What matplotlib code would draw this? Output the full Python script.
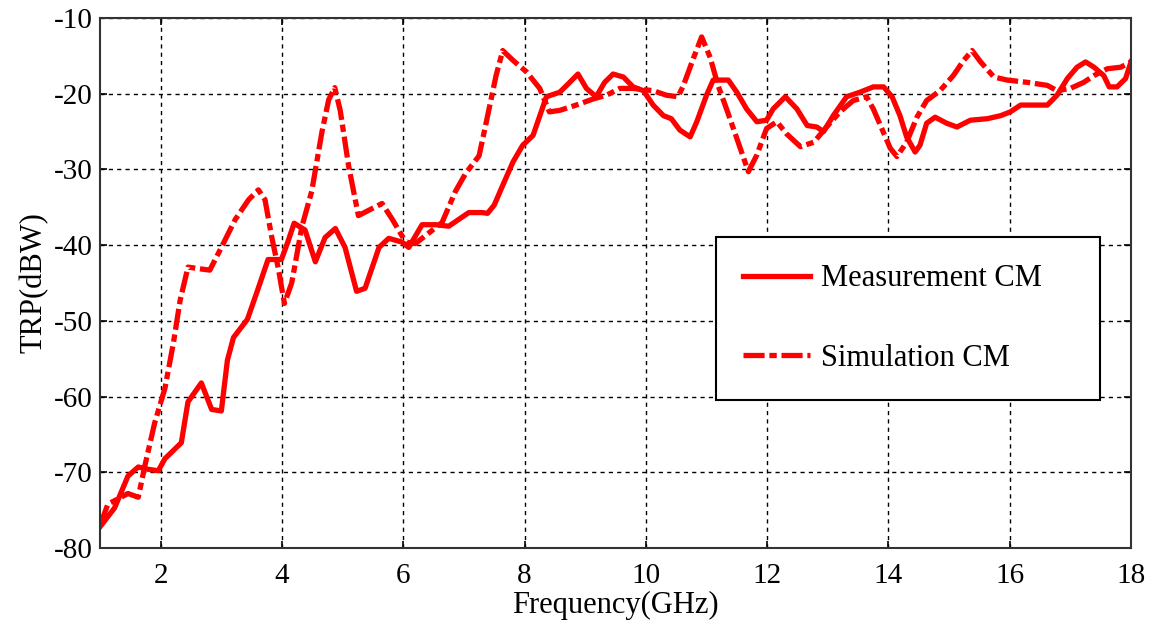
import numpy as np
import matplotlib
matplotlib.use("Agg")
import matplotlib.pyplot as plt

plt.rcParams['font.family'] = ['Liberation Serif', 'DejaVu Serif']
plt.rcParams['axes.unicode_minus'] = False

# Measurement CM (solid)
meas_f = [1.0, 1.24, 1.46, 1.63, 1.79, 1.96, 2.07, 2.34, 2.45, 2.67, 2.84, 3.0, 3.1, 3.2,
          3.43, 3.6, 3.77, 3.99, 4.1, 4.2, 4.38, 4.55, 4.71, 4.88, 5.04, 5.23, 5.37, 5.6,
          5.76, 5.98, 6.09, 6.31, 6.53, 6.75, 7.08, 7.3, 7.39, 7.5, 7.64, 7.81, 7.97, 8.14,
          8.36, 8.58, 8.72, 8.88, 9.02, 9.18, 9.32, 9.46, 9.63, 9.79, 9.96, 10.12, 10.29,
          10.42, 10.56, 10.73, 10.84, 11.0, 11.11, 11.36, 11.5, 11.66, 11.83, 11.99, 12.1,
          12.3, 12.49, 12.66, 12.82, 12.93, 13.09, 13.31, 13.53, 13.75, 13.92, 14.06, 14.19,
          14.3, 14.44, 14.52, 14.63, 14.77, 14.96, 15.13, 15.35, 15.63, 15.85, 16.01, 16.18,
          16.4, 16.62, 16.78, 16.95, 17.11, 17.25, 17.39, 17.55, 17.64, 17.77, 17.91, 18.0]
meas_db = [-77.2, -74.7, -70.5, -69.3, -69.6, -69.8, -68.2, -66.1, -60.7, -58.2, -61.7, -61.9,
           -55.2, -52.2, -49.8, -45.9, -41.9, -41.9, -39.5, -37.1, -38.0, -42.2, -39.0, -37.8,
           -40.3, -46.1, -45.7, -40.3, -39.1, -39.6, -40.3, -37.3, -37.3, -37.5, -35.7, -35.7,
           -35.8, -34.7, -32.1, -29.0, -26.8, -25.5, -20.4, -19.8, -18.7, -17.4, -19.3, -20.4,
           -18.5, -17.4, -17.8, -19.1, -19.6, -21.5, -22.9, -23.3, -24.8, -25.7, -23.7, -20.2,
           -18.2, -18.2, -19.8, -22.0, -23.7, -23.5, -22.0, -20.4, -22.0, -24.2, -24.4, -25.0,
           -22.9, -20.4, -19.8, -19.1, -19.1, -20.4, -22.9, -25.7, -27.7, -26.8, -23.9, -23.1,
           -23.9, -24.4, -23.5, -23.3, -22.9, -22.4, -21.5, -21.5, -21.5, -20.2, -18.0, -16.5,
           -15.8, -16.5, -17.6, -19.1, -19.1, -18.0, -15.8]

# Simulation CM (dash-dot)
sim_f = [1.0, 1.13, 1.3, 1.46, 1.63, 1.74, 1.9, 2.07, 2.21, 2.32, 2.45, 2.62, 2.81, 3.0, 3.23,
         3.45, 3.61, 3.72, 3.83, 3.94, 4.04, 4.16, 4.33, 4.49, 4.66, 4.77, 4.87, 4.96, 5.1,
         5.26, 5.43, 5.65, 5.82, 6.04, 6.2, 6.42, 6.64, 6.86, 7.03, 7.25, 7.37, 7.53, 7.64,
         7.81, 8.03, 8.25, 8.41, 8.58, 8.85, 9.13, 9.35, 9.57, 9.79, 10.12, 10.34, 10.53,
         10.62, 10.78, 10.92, 11.06, 11.19, 11.33, 11.5, 11.69, 11.83, 11.99, 12.16, 12.32,
         12.55, 12.77, 12.98, 13.2, 13.42, 13.64, 13.75, 13.89, 14.03, 14.14, 14.3, 14.47,
         14.63, 14.85, 15.07, 15.24, 15.38, 15.52, 15.74, 15.96, 16.29, 16.62, 16.78, 17.0,
         17.22, 17.39, 17.61, 17.83, 18.0]
sim_db = [-77.0, -74.2, -73.5, -72.8, -73.3, -69.1, -63.5, -58.9, -52.9, -47.3, -42.9, -43.1,
          -43.3, -40.3, -36.6, -34.0, -32.7, -34.0, -38.9, -43.1, -47.7, -45.0, -37.5, -32.9,
          -25.0, -20.8, -19.2, -22.2, -29.6, -36.1, -35.4, -34.5, -36.6, -39.6, -39.8, -38.4,
          -37.0, -32.9, -30.5, -28.2, -23.7, -17.6, -14.3, -15.6, -17.1, -19.3, -22.4, -22.2,
          -21.5, -20.7, -20.2, -19.3, -19.3, -19.6, -20.2, -20.4, -18.9, -15.4, -12.5, -15.2,
          -18.9, -22.0, -25.9, -30.3, -28.1, -24.6, -23.7, -25.3, -27.0, -26.4, -24.4, -22.4,
          -20.9, -20.4, -22.0, -24.6, -27.2, -28.3, -26.4, -23.1, -20.9, -19.6, -17.6, -15.6,
          -14.3, -15.8, -17.8, -18.2, -18.5, -18.9, -19.6, -19.3, -18.5, -17.6, -16.7, -16.5,
          -15.8]

xticks = np.arange(2, 19, 2)
yticks = np.arange(-80, -9, 10)

fig = plt.figure(figsize=(11.58, 6.25), dpi=100)
ax = fig.add_axes([0.0864, 0.1232, 0.8903, 0.848])

ax.plot(meas_f, meas_db, color='red', lw=3.8, label='Measurement CM')
ax.plot(sim_f, sim_db, color='red', lw=3.8, dashes=[4, 0.9, 1.4, 0.9], label='Simulation CM')

ax.set_xlim(1, 18)
ax.set_ylim(-80, -10)
ax.set_xticks(xticks)
ax.set_yticks(yticks)
ax.tick_params(direction='in', top=True, right=True, labelsize=21, length=5, width=1.2)
ax.tick_params(axis='x', pad=11)
ax.tick_params(axis='y', pad=5)
ax.grid(True, color='black', linestyle=(0, (3, 3)), linewidth=1.0)
for s in ax.spines.values():
    s.set_linewidth(1.5)
    s.set_color('#333333')

ax.set_xlabel('Frequency(GHz)', fontsize=22, labelpad=1)
ax.set_ylabel('TRP(dBW)', fontsize=22, labelpad=4)

leg = ax.legend(loc='upper left', bbox_to_anchor=(0.597, 0.279, 0.373, 0.308), mode='expand',
                fontsize=22, fancybox=False, framealpha=1, edgecolor='black',
                handlelength=2.2, borderpad=0.9, labelspacing=1.65, handletextpad=0.35,
                borderaxespad=0)
leg.get_frame().set_linewidth(1.5)

fig.savefig('out.png', dpi=100)
